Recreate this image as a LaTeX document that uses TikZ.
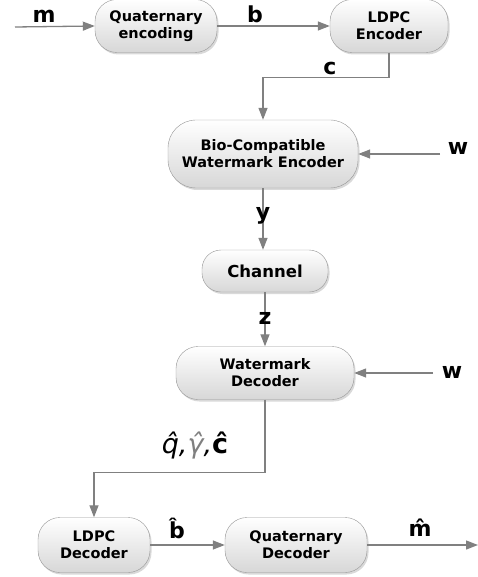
\documentclass[tikz,border=0pt]{standalone}
\usepackage{fontspec}
\setmainfont{DejaVu Sans}
\usetikzlibrary{arrows.meta,positioning,shadows}
\definecolor{lijn}{RGB}{128,128,128}
\definecolor{rand}{RGB}{150,150,150}
\definecolor{bodem}{RGB}{215,215,215}

\tikzset{
  blok/.style={rectangle, rounded corners=22pt, draw=rand, top color=white, bottom color=bodem,
    drop shadow={opacity=0.3, shadow xshift=1.5pt, shadow yshift=-2pt},
    align=center, inner sep=2pt, font=\bfseries\fontsize{14.5}{17}\selectfont},
  pijl/.style={-{Triangle[length=12pt,width=9pt]}, line width=1.3pt, draw=lijn},
  lbl/.style={font=\bfseries\fontsize{22}{22}\selectfont, inner sep=0pt}
}

\begin{document}
\begin{tikzpicture}[x=1pt, y=1pt, node distance=233pt]
    \useasboundingbox (0,0) rectangle (478,-577);

    % Encoder
    \node[blok, minimum width=122pt, minimum height=53pt] (qenc) at (156,-26) {Quaternary\\encoding};
    \node[blok, right of=qenc, minimum width=118pt, minimum height=53pt] (ldpce) {LDPC\\Encoder};
    \node[blok, rounded corners=28pt, minimum width=190pt, minimum height=68pt] (bioenc) at (263,-154) {Bio-Compatible\\Watermark Encoder};

    % Kanaal en decoder
    \node[blok, rounded corners=19pt, minimum width=126pt, minimum height=42pt, font=\bfseries\fontsize{16.5}{19}\selectfont] (chan) at (265,-271) {Channel};
    \node[blok, below of=chan, node distance=102pt, minimum width=178pt, minimum height=53pt] (wdec) {Watermark\\Decoder};
    \node[blok, minimum width=112pt, minimum height=55pt] (ldpcd) at (94,-545) {LDPC\\Decoder};
    \node[blok, right of=ldpcd, node distance=202pt, minimum width=142pt, minimum height=55pt] (qdec) {Quaternary\\Decoder};

    % Vrije eindpunten
    \coordinate (min) at (15,-27);
    \coordinate (win) at (440,-154);
    \coordinate (wdin) at (433,-373);
    \coordinate (mout) at (478,-545);

    % Pijlen
    \draw[pijl] (min) -- (qenc.west);
    \draw[pijl] (qenc.east) -- (ldpce.west);
    \draw[pijl] (ldpce.south) -- ++(0,-25) -| (bioenc.north);
    \draw[pijl] (win) -- (bioenc.east);
    \draw[pijl] (bioenc.south) -- (chan.north -| bioenc.south);
    \draw[pijl] (chan.south) -- (wdec.north);
    \draw[pijl] (wdin) -- (wdec.east);
    \draw[pijl] (wdec.south) -- ++(0,-73) -| (ldpcd.north);
    \draw[pijl] (ldpcd.east) -- (qdec.west);
    \draw[pijl] (qdec.east) -- (mout);

    % Labels
    \node[lbl] (lm) at (44,-16) {m};
    \node[lbl] (lb) at (255,-14) {b};
    \node[lbl] (lc) at (330,-68) {c};
    \node[lbl] (lw1) at (458,-148) {w};
    \node[lbl] (ly) at (263,-216) {y};
    \node[lbl] (lz) at (265,-318) {z};
    \node[lbl] (lw2) at (452,-372) {w};
    \node[lbl, font=\fontsize{27}{27}\selectfont] (lqgc) at (195,-446) {\itshape q̂,\textcolor{lijn}{γ̂},\upshape\bfseries ĉ};
    \node[lbl] (lbh) at (177,-528) {b̂};
    \node[lbl] (lmh) at (420,-528) {m̂};
\end{tikzpicture}
\end{document}
